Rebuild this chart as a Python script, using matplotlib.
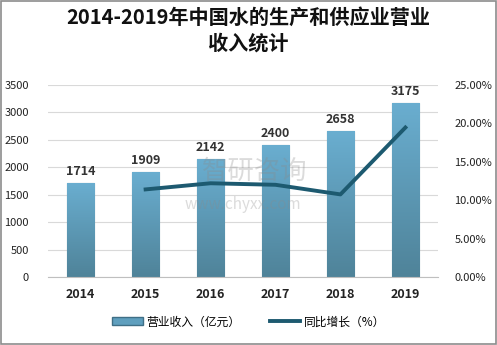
import numpy as np
import matplotlib.pyplot as plt
from matplotlib.patches import Rectangle
from matplotlib.lines import Line2D
from matplotlib.colors import LinearSegmentedColormap

plt.rcParams['font.family'] = ['Noto Sans CJK SC', 'DejaVu Sans']

years = ['2014', '2015', '2016', '2017', '2018', '2019']
revenue = [1714, 1909, 2142, 2400, 2658, 3175]
growth = [None, 11.4, 12.2, 12.0, 10.75, 19.45]

fig = plt.figure(figsize=(4.97, 3.45), dpi=100)
fig.patches.append(Rectangle((0.003, 0.003), 0.994, 0.994, transform=fig.transFigure,
                             fill=False, edgecolor='#8c8c8c', linewidth=1.2))

ax = fig.add_axes([0.097, 0.197, 0.784, 0.557])
x = np.arange(len(years))
bars = ax.bar(x, revenue, width=0.42, color='#5f9fbe', edgecolor='#3f6f86',
              linewidth=0.8, zorder=2)

# vertical gradient inside each bar
grad = np.linspace(0, 1, 256).reshape(-1, 1)
cmap = LinearSegmentedColormap.from_list('b', ['#4f8399', '#6aaed0'])
for b in bars:
    x0, y0 = b.get_x(), b.get_y()
    im = ax.imshow(grad, cmap=cmap, aspect='auto', origin='lower',
                   extent=[x0, x0 + b.get_width(), y0, y0 + b.get_height()], zorder=2)
    im.set_clip_path(b)

# watermark (faint, kept clear of the value labels)
ax.text(0.53, 0.55, '智研咨询', transform=ax.transAxes, ha='center', va='center',
        fontsize=19, color='#8a8a8a', alpha=0.3, zorder=3)
ax.text(0.50, 0.38, 'www.chyxx.com', transform=ax.transAxes, ha='center', va='center',
        fontsize=11, color='#8a8a8a', alpha=0.3, zorder=3)

for xi, v in zip(x, revenue):
    ax.text(xi, v + 90, str(v), ha='center', va='bottom', fontsize=9,
            color='#333333', fontweight='bold', zorder=4)

ax.set_xlim(-0.5, 5.5)
ax.set_ylim(0, 3500)
ax.set_yticks(range(0, 3501, 500))
ax.set_xticks(x)
ax.set_xticklabels(years, fontweight='bold', fontsize=9, color='#222222')
ax.tick_params(axis='y', labelsize=8, colors='#222222', length=0, pad=14)
ax.tick_params(axis='x', length=0, pad=8)
ax.grid(axis='y', color='#d9d9d9', linewidth=0.8, zorder=0)
for s in ['top', 'right', 'left']:
    ax.spines[s].set_visible(False)
ax.spines['bottom'].set_color('#bfbfbf')

ax2 = ax.twinx()
gx = [xi for xi, g in zip(x, growth) if g is not None]
gy = [g for g in growth if g is not None]
ax2.plot(gx, gy, color='#1d5a70', linewidth=2.8, zorder=5)
ax2.set_ylim(0, 25)
ax2.set_yticks(range(0, 26, 5))
ax2.set_yticklabels(['%.2f%%' % t for t in range(0, 26, 5)])
ax2.tick_params(axis='y', labelsize=8, colors='#222222', length=0, pad=12)
for s in ['top', 'right', 'left', 'bottom']:
    ax2.spines[s].set_visible(False)

fig.text(0.5, 0.912, '2014-2019年中国水的生产和供应业营业\n收入统计', ha='center', va='center',
         fontsize=14.5, fontweight='bold', color='#111111', linespacing=1.25)

handles = [Rectangle((0, 0), 1, 1, facecolor='#5f9fbe', edgecolor='#3f6f86'),
           Line2D([0], [0], color='#1d5a70', linewidth=2.8)]
fig.legend(handles, ['营业收入（亿元）', '同比增长（%）'], loc='center',
           bbox_to_anchor=(0.5, 0.067), ncol=2, frameon=False, fontsize=8.5,
           handlelength=2.6, handleheight=0.6, columnspacing=2.5, handletextpad=0.3)

fig.savefig('out.png', dpi=100)
